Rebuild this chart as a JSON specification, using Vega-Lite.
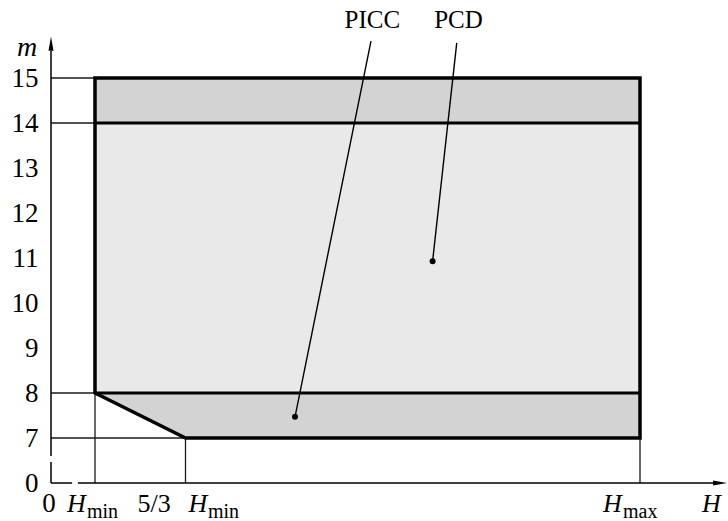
{
  "$schema": "https://vega.github.io/schema/vega-lite/v6.json",
  "width": 677,
  "height": 483,
  "padding": {"left": 51, "top": 0, "right": 0, "bottom": 38},
  "autosize": {"type": "none"},
  "background": "white",
  "config": {"view": {"stroke": null}, "text": {"font": "Liberation Serif", "fontSize": 25, "color": "black"}},
  "encoding": {
    "x": {"field": "H", "type": "quantitative", "axis": null,
          "scale": {"domain": [0, 1, 1.6667, 5], "range": [0, 44, 134.5, 589], "zero": false, "nice": false}},
    "y": {"field": "m", "type": "quantitative",
          "scale": {"domain": [0, 7, 15], "range": [483, 438, 78], "zero": false, "nice": false},
          "axis": {"values": [0, 7, 8, 9, 10, 11, 12, 13, 14, 15], "title": null, "domain": false, "ticks": false, "grid": false,
                   "labelFont": "Liberation Serif", "labelFontSize": 27, "labelColor": "black", "labelPadding": 13}}
  },
  "layer": [
    {
      "data": {"values": [
        {"zone": "dense", "H": 1, "H2": 5, "m": 14, "m2": 15},
        {"zone": "sparse", "H": 1, "H2": 5, "m": 8, "m2": 14}
      ]},
      "mark": {"type": "rect"},
      "encoding": {
        "x2": {"field": "H2"},
        "y2": {"field": "m2"},
        "fill": {"field": "zone", "type": "nominal", "legend": null,
                 "scale": {"domain": ["dense", "sparse"], "range": ["#d3d3d3", "#e9e9e9"]}}
      }
    },
    {
      "data": {"values": [
        {"H": 1, "m": 8, "m2": 8},
        {"H": 1.6667, "m": 7, "m2": 8},
        {"H": 5, "m": 7, "m2": 8}
      ]},
      "mark": {"type": "area", "color": "#d3d3d3", "orient": "vertical"},
      "encoding": {"y2": {"field": "m2"}}
    },
    {
      "data": {"values": [
        {"H": 0, "H2": 1, "m": 15, "m2": 15},
        {"H": 0, "H2": 1, "m": 14, "m2": 14},
        {"H": 0, "H2": 1, "m": 8, "m2": 8},
        {"H": 0, "H2": 1.6667, "m": 7, "m2": 7},
        {"H": 1, "H2": 1, "m": 0, "m2": 8},
        {"H": 1.6667, "H2": 1.6667, "m": 0, "m2": 7},
        {"H": 5, "H2": 5, "m": 0, "m2": 7}
      ]},
      "mark": {"type": "rule", "color": "#1a1a1a", "strokeWidth": 1.3},
      "encoding": {"x2": {"field": "H2"}, "y2": {"field": "m2"}}
    },
    {
      "data": {"values": [
        {"H": 0, "H2": 0, "m": 0, "m2": 3.27},
        {"H": 0, "H2": 0, "m": 4.2, "m2": 15.6},
        {"H": 0, "H2": 0.48, "m": 0, "m2": 0},
        {"H": 0.61, "H2": 5.55, "m": 0, "m2": 0}
      ]},
      "mark": {"type": "rule", "color": "black", "strokeWidth": 1.5},
      "encoding": {"x2": {"field": "H2"}, "y2": {"field": "m2"}}
    },
    {
      "data": {"values": [
        {"H": 0, "m": 15.76, "dir": "up"},
        {"H": 5.587, "m": 0, "dir": "right"}
      ]},
      "mark": {"type": "point", "filled": true, "color": "black", "size": 196, "opacity": 1},
      "encoding": {
        "shape": {"field": "dir", "type": "nominal", "legend": null,
                  "scale": {"domain": ["up", "right"], "range": ["M0,-1L0.36,1L-0.36,1Z", "M1,0L-1,0.36L-1,-0.36Z"]}}
      }
    },
    {
      "data": {"values": [
        {"k": 1, "H": 1, "m": 15},
        {"k": 2, "H": 5, "m": 15},
        {"k": 3, "H": 5, "m": 7},
        {"k": 4, "H": 1.6667, "m": 7},
        {"k": 5, "H": 1, "m": 8},
        {"k": 6, "H": 1, "m": 15}
      ]},
      "mark": {"type": "line", "color": "black", "strokeWidth": 3.5, "strokeJoin": "miter", "strokeCap": "square"},
      "encoding": {"order": {"field": "k", "type": "quantitative"}}
    },
    {
      "data": {"values": [
        {"H": 1, "H2": 5, "m": 14},
        {"H": 1, "H2": 5, "m": 8}
      ]},
      "mark": {"type": "rule", "color": "black", "strokeWidth": 3},
      "encoding": {"x2": {"field": "H2"}}
    },
    {
      "data": {"values": [
        {"H": 3.027, "m": 15.82, "H2": 2.47, "m2": 7.47},
        {"H": 3.656, "m": 15.78, "H2": 3.479, "m2": 10.93}
      ]},
      "mark": {"type": "rule", "color": "black", "strokeWidth": 1.4},
      "encoding": {"x2": {"field": "H2"}, "y2": {"field": "m2"}}
    },
    {
      "data": {"values": [
        {"H": 2.47, "m": 7.47},
        {"H": 3.479, "m": 10.93}
      ]},
      "mark": {"type": "point", "filled": true, "color": "black", "size": 36, "opacity": 1}
    },
    {
      "data": {"values": [
        {"H": 3.037, "m": 16.11, "label": "PICC"},
        {"H": 3.669, "m": 16.11, "label": "PCD"}
      ]},
      "mark": {"type": "text", "align": "center", "baseline": "alphabetic"},
      "encoding": {"text": {"field": "label"}}
    },
    {
      "data": {"values": [{"H": 0, "m": 15.5, "t": "m"}]},
      "mark": {"type": "text", "align": "center", "baseline": "alphabetic", "fontStyle": "italic", "fontSize": 28, "dx": -24},
      "encoding": {"text": {"field": "t"}}
    },
    {
      "data": {"values": [{"H": 0, "m": 0, "t": "0"}]},
      "mark": {"type": "text", "align": "center", "baseline": "alphabetic", "fontSize": 27, "dx": -2, "dy": 29},
      "encoding": {"text": {"field": "t"}}
    },
    {
      "data": {"values": [{"H": 1, "m": 0, "t": "H"}]},
      "mark": {"type": "text", "align": "left", "baseline": "alphabetic", "fontStyle": "italic", "fontSize": 26, "dx": -28, "dy": 29},
      "encoding": {"text": {"field": "t"}}
    },
    {
      "data": {"values": [{"H": 1, "m": 0, "t": "min"}]},
      "mark": {"type": "text", "align": "left", "baseline": "alphabetic", "fontSize": 20, "dx": -8, "dy": 35},
      "encoding": {"text": {"field": "t"}}
    },
    {
      "data": {"values": [{"H": 1.6667, "m": 0, "t": "5/3"}]},
      "mark": {"type": "text", "align": "left", "baseline": "alphabetic", "fontSize": 26, "dx": -48, "dy": 29},
      "encoding": {"text": {"field": "t"}}
    },
    {
      "data": {"values": [{"H": 1.6667, "m": 0, "t": "H"}]},
      "mark": {"type": "text", "align": "left", "baseline": "alphabetic", "fontStyle": "italic", "fontSize": 26, "dx": 3, "dy": 29},
      "encoding": {"text": {"field": "t"}}
    },
    {
      "data": {"values": [{"H": 1.6667, "m": 0, "t": "min"}]},
      "mark": {"type": "text", "align": "left", "baseline": "alphabetic", "fontSize": 20, "dx": 22.5, "dy": 35},
      "encoding": {"text": {"field": "t"}}
    },
    {
      "data": {"values": [{"H": 5, "m": 0, "t": "H"}]},
      "mark": {"type": "text", "align": "left", "baseline": "alphabetic", "fontStyle": "italic", "fontSize": 26, "dx": -37, "dy": 29},
      "encoding": {"text": {"field": "t"}}
    },
    {
      "data": {"values": [{"H": 5, "m": 0, "t": "max"}]},
      "mark": {"type": "text", "align": "left", "baseline": "alphabetic", "fontSize": 20, "dx": -17, "dy": 35},
      "encoding": {"text": {"field": "t"}}
    },
    {
      "data": {"values": [{"H": 5.587, "m": 0, "t": "H"}]},
      "mark": {"type": "text", "align": "left", "baseline": "alphabetic", "fontStyle": "italic", "fontSize": 26, "dx": -18, "dy": 29},
      "encoding": {"text": {"field": "t"}}
    }
  ]
}
